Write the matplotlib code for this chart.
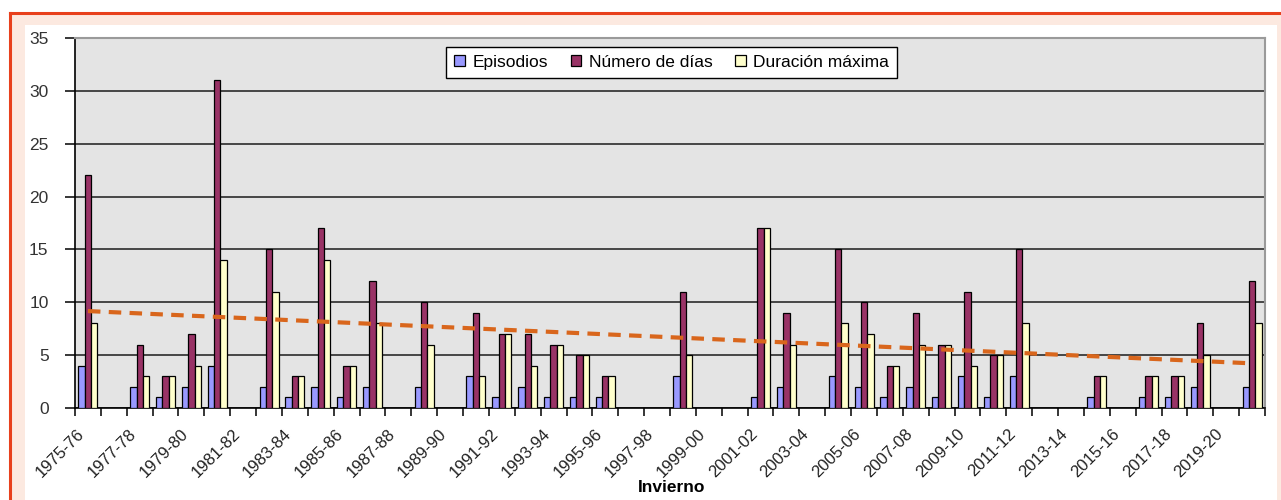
import numpy as np
import matplotlib.pyplot as plt
import matplotlib.transforms as mtransforms
from matplotlib.patches import Rectangle

# Olas de frío por invierno
inviernos = ["1975-76", "1976-77", "1977-78", "1978-79", "1979-80", "1980-81",
             "1981-82", "1982-83", "1983-84", "1984-85", "1985-86", "1986-87",
             "1987-88", "1988-89", "1989-90", "1990-91", "1991-92", "1992-93",
             "1993-94", "1994-95", "1995-96", "1996-97", "1997-98", "1998-99",
             "1999-00", "2000-01", "2001-02", "2002-03", "2003-04", "2004-05",
             "2005-06", "2006-07", "2007-08", "2008-09", "2009-10", "2010-11",
             "2011-12", "2012-13", "2013-14", "2014-15", "2015-16", "2016-17",
             "2017-18", "2018-19", "2019-20", "2020-21"]
episodios = [4, 0, 2, 1, 2, 4, 0, 2, 1, 2, 1, 2, 0, 2, 0, 3, 1, 2, 1, 1, 1, 0, 0,
             3, 0, 0, 1, 2, 0, 3, 2, 1, 2, 1, 3, 1, 3, 0, 0, 1, 0, 1, 1, 2, 0, 2]
num_dias = [22, 0, 6, 3, 7, 31, 0, 15, 3, 17, 4, 12, 0, 10, 0, 9, 7, 7, 6, 5, 3, 0, 0,
            11, 0, 0, 17, 9, 0, 15, 10, 4, 9, 6, 11, 5, 15, 0, 0, 3, 0, 3, 3, 8, 0, 12]
duracion_max = [8, 0, 3, 3, 4, 14, 0, 11, 3, 14, 4, 8, 0, 6, 0, 3, 7, 4, 6, 5, 3, 0, 0,
                5, 0, 0, 17, 6, 0, 8, 7, 4, 6, 6, 4, 5, 8, 0, 0, 3, 0, 3, 3, 5, 0, 8]

W, H = 1281, 500
fig = plt.figure(figsize=(W / 100, H / 100), dpi=100, facecolor="white")

# marco exterior: franja salmón con borde rojo arriba y a la izquierda
fig.patches.append(Rectangle((10 / W, 0), 1 - 10 / W, 1 - 13 / H, transform=fig.transFigure,
                             facecolor="#FCE9E0", edgecolor="none", zorder=-2))
fig.patches.append(Rectangle((25 / W, 0), 1252 / W, 1 - 25 / H, transform=fig.transFigure,
                             facecolor="white", edgecolor="none", zorder=-1))
fig.lines.append(plt.Line2D([10 / W, 10 / W], [0, 1 - 13 / H], transform=fig.transFigure,
                            color="#E8401C", lw=2.2, zorder=-1))
fig.lines.append(plt.Line2D([10 / W, 1], [1 - 13 / H, 1 - 13 / H], transform=fig.transFigure,
                            color="#E8401C", lw=2.2, zorder=-1))

ax = fig.add_axes([75 / W, 92 / H, 1190 / W, 370 / H])
ax.set_facecolor("#E4E4E4")

x = np.arange(len(inviernos))
bw = 0.245
kw = dict(edgecolor="black", linewidth=0.9, zorder=3)


def barras(valores, offset, color, label):
    # solo los inviernos con valor, para no dibujar barras vacías sobre el eje
    v = np.asarray(valores)
    sel = v > 0
    ax.bar(x[sel] + offset, v[sel], bw, color=color, label=label, **kw)


barras(episodios, -bw, "#9999FF", "Episodios")
barras(num_dias, 0, "#993366", "Número de días")
barras(duracion_max, bw, "#FFFFCC", "Duración máxima")

# tendencia lineal del número de días
m, b = np.polyfit(x, num_dias, 1)
ax.plot(x, m * x + b, color="#D9661C", lw=3, ls=(0, (3, 2)), zorder=4)

ax.set_xlim(-0.5, len(inviernos) - 0.5)
ax.set_ylim(0, 35)
ax.set_yticks(np.arange(0, 36, 5))
ax.yaxis.grid(True, color="#1a1a1a", lw=1.1, zorder=1)
ax.set_axisbelow(True)

# marcas en los límites de cada categoría, etiquetas cada dos inviernos
ax.set_xticks(np.arange(-0.5, len(inviernos)), minor=True)
ax.set_xticks(x[::2])
ax.set_xticklabels(inviernos[::2], rotation=45, ha="right", va="top",
                   rotation_mode="anchor", fontsize=12, color="#222222",
                   family="Liberation Sans")
ax.tick_params(axis="x", which="major", length=0, pad=13)
ax.tick_params(axis="x", which="minor", length=6, width=1.1, color="black")
ax.tick_params(axis="y", length=7, width=1.1, labelsize=12.5, labelcolor="#333333", pad=12)
for t in ax.get_yticklabels():
    t.set_family("Liberation Sans")

# desplazar las etiquetas del eje x un poco a la izquierda
shift = mtransforms.ScaledTranslation(-11 / 100, 0, fig.dpi_scale_trans)
for t in ax.get_xticklabels():
    t.set_transform(t.get_transform() + shift)

for s in ["left", "bottom"]:
    ax.spines[s].set_color("black")
    ax.spines[s].set_linewidth(1.2)
for s in ["top", "right"]:
    ax.spines[s].set_color("#9a9a9a")
    ax.spines[s].set_linewidth(1.5)

fig.text(672 / W, 1 - 488 / H, "Invierno", ha="center", va="center",
         fontsize=12.5, fontweight="bold", family="Liberation Sans")

leg = ax.legend(loc="upper center", bbox_to_anchor=(0.5015, 0.976), ncol=3, frameon=True,
                fancybox=False, edgecolor="black", framealpha=1, borderaxespad=0,
                prop={"family": "Liberation Sans", "size": 12.5},
                handlelength=0.6, handleheight=0.6, handletextpad=0.45, columnspacing=1.3,
                borderpad=0.45)
leg.get_frame().set_linewidth(1.0)

fig.savefig("out.png", dpi=100)
